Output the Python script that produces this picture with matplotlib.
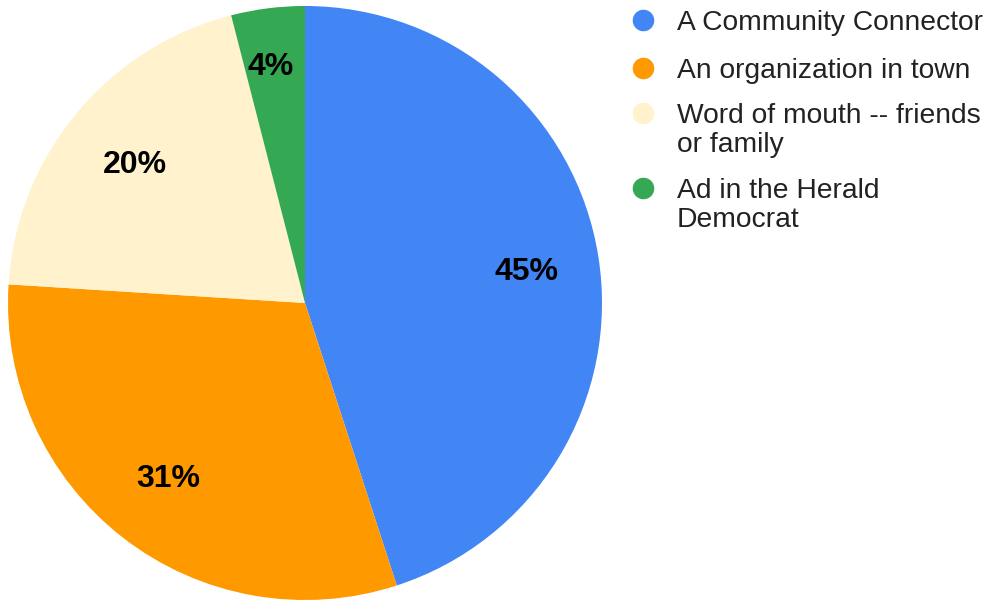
import matplotlib.pyplot as plt
from matplotlib.lines import Line2D

# Survey: how people heard about the program
sources = ["A Community Connector", "An organization in town",
           "Word of mouth -- friends\nor family", "Ad in the Herald\nDemocrat"]
shares = [45, 31, 20, 4]
colors = ["#4285F4", "#FF9900", "#FFF2CC", "#34A853"]

W, H = 989, 600
fig = plt.figure(figsize=(W / 100, H / 100), dpi=100)
plt.rcParams['font.family'] = ['Liberation Sans', 'DejaVu Sans']

# pie centred at (305, 303) px, radius 297 px
cx, cy, r = 305, 303, 297
ax = fig.add_axes([(cx - r) / W, (H - cy - r) / H, 2 * r / W, 2 * r / H])
wedges, texts, autotexts = ax.pie(shares, colors=colors, startangle=90,
                                  counterclock=False, radius=1,
                                  autopct='%d%%', pctdistance=0.75,
                                  wedgeprops=dict(linewidth=0),
                                  textprops=dict(fontsize=23, fontweight='bold',
                                                 color='black'))
# small per-label nudges (x, y in axes data units)
nudges = [(0.005, -0.012), (0.0, 0.0), (0.005, -0.012), (-0.015, 0.01)]
for t, (dx, dy) in zip(autotexts, nudges):
    x, y = t.get_position()
    t.set_position((x + dx, y + dy))
x, y = autotexts[3].get_position()
autotexts[3].set_position((x * 0.79 / 0.75, y * 0.79 / 0.75))
ax.set_xlim(-1, 1)
ax.set_ylim(-1, 1)
ax.set_aspect('equal')
ax.axis('off')

# legend drawn by hand on the right
legend_y = [20, 68, 113, 188]
line_gap = 29
for name, col, ly in zip(sources, colors, legend_y):
    fig.add_artist(Line2D([643 / W], [1 - ly / H], marker='o', markersize=14.5,
                          color=col, linestyle='none', transform=fig.transFigure))
    for k, part in enumerate(name.split("\n")):
        base = ly + 10 + k * line_gap
        fig.text(677 / W, 1 - base / H, part, fontsize=20.3, color='#222222',
                 va='baseline', ha='left')

fig.savefig("out.png", dpi=100)
